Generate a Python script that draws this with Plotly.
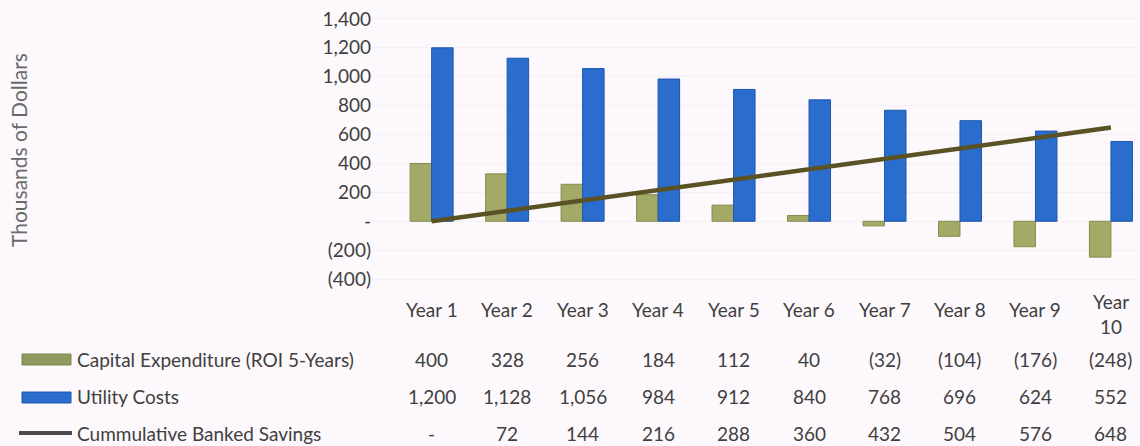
import plotly.graph_objects as go

# ---- data ----
years = ["Year 1", "Year 2", "Year 3", "Year 4", "Year 5",
         "Year 6", "Year 7", "Year 8", "Year 9", "Year 10"]
year_labels = ["Year 1", "Year 2", "Year 3", "Year 4", "Year 5",
               "Year 6", "Year 7", "Year 8", "Year 9", "Year<br>10"]
capex = [400, 328, 256, 184, 112, 40, -32, -104, -176, -248]
utility = [1200, 1128, 1056, 984, 912, 840, 768, 696, 624, 552]
savings = [0, 72, 144, 216, 288, 360, 432, 504, 576, 648]
series_names = ["Capital Expenditure (ROI 5-Years)", "Utility Costs",
                "Cummulative Banked Savings"]
y_tickvals = [-400, -200, 0, 200, 400, 600, 800, 1000, 1200, 1400]
y_ticktext = ["(400)", "(200)", "-", "200", "400", "600", "800",
              "1,000", "1,200", "1,400"]
y_title = "Thousands of Dollars"


def acct(v):
    if v == 0:
        return "-"
    if v < 0:
        return "({:,})".format(-v)
    return "{:,}".format(v)


FONT = "Lato"
FS = 19
GREEN = "#a3aa68"
GREEN_EDGE = "#868d4e"
BLUE = "#2a6dcc"
BLUE_EDGE = "#1d58ad"
LINE = "#5a5224"
TXT = "#3f3f3f"
BG = "#fcf8fc"

x = list(range(len(years)))

fig = go.Figure()
fig.add_trace(go.Bar(x=x, y=capex, name=series_names[0],
                     marker=dict(color=GREEN, line=dict(color=GREEN_EDGE, width=1))))
fig.add_trace(go.Bar(x=x, y=utility, name=series_names[1],
                     marker=dict(color=BLUE, line=dict(color=BLUE_EDGE, width=1))))
fig.add_trace(go.Scatter(x=x, y=savings, name=series_names[2], mode="lines",
                         line=dict(color=LINE, width=4.5)))

# geometry helpers (plot area in pixels)
W, H = 1140, 446
L, R = 372, 1140
T, B = 16, 282
pw, ph = R - L, B - T


def px_x(p):
    return (p - L) / pw


def px_y(p):
    return (B - p) / ph


ann = []
# header row (years)
for i, lab in enumerate(year_labels):
    yy = 313.5 if "<br>" in lab else 310
    ann.append(dict(x=i, xref="x", y=px_y(yy), yref="paper", text=lab,
                    showarrow=False, xanchor="center", yanchor="middle",
                    font=dict(family=FONT, size=FS, color=TXT)))

rows = [capex, utility, savings]
row_y = [359, 396, 433]
for r, (vals, ry) in enumerate(zip(rows, row_y)):
    ann.append(dict(x=px_x(75), xref="paper", y=px_y(ry), yref="paper",
                    text=series_names[r], showarrow=False, xanchor="left",
                    yanchor="middle", font=dict(family=FONT, size=FS, color=TXT)))
    for i, v in enumerate(vals):
        ann.append(dict(x=i, xref="x", y=px_y(ry), yref="paper", text=acct(v),
                        showarrow=False, xanchor="center", yanchor="middle",
                        font=dict(family=FONT, size=FS, color=TXT)))

ann.append(dict(x=px_x(18), xref="paper", y=px_y(150), yref="paper",
                text=y_title, textangle=-90, showarrow=False,
                xanchor="center", yanchor="middle",
                font=dict(family=FONT, size=21, color="#6a6a6a")))

shapes = [
    dict(type="rect", xref="paper", yref="paper",
         x0=px_x(22), x1=px_x(71), y0=px_y(365), y1=px_y(354),
         fillcolor="#8f9a5e", line=dict(color="#7d874f", width=1)),
    dict(type="rect", xref="paper", yref="paper",
         x0=px_x(22), x1=px_x(71), y0=px_y(403), y1=px_y(392),
         fillcolor=BLUE, line=dict(color=BLUE_EDGE, width=1)),
    dict(type="line", xref="paper", yref="paper",
         x0=px_x(19), x1=px_x(72), y0=px_y(433), y1=px_y(433),
         line=dict(color="#4f4a4a", width=4)),
]

fig.update_layout(
    width=W, height=H,
    margin=dict(l=L, r=W - R, t=T, b=H - B, pad=0),
    paper_bgcolor=BG, plot_bgcolor=BG,
    barmode="group", bargap=0.43, bargroupgap=0.0,
    showlegend=False,
    annotations=ann, shapes=shapes,
    xaxis=dict(range=[-0.79, 9.385], showticklabels=False, showgrid=False,
               zeroline=False, showline=False, ticks=""),
    yaxis=dict(range=[-420, 1420], tickvals=y_tickvals, ticktext=y_ticktext,
               showgrid=True, gridcolor="#f4eff4", gridwidth=1,
               zeroline=False, showline=False, ticks="",
               tickfont=dict(family=FONT, size=FS, color=TXT)),
)

fig.write_html("out.html", config={"displayModeBar": False},
               post_script="document.body.style.margin='0';")
